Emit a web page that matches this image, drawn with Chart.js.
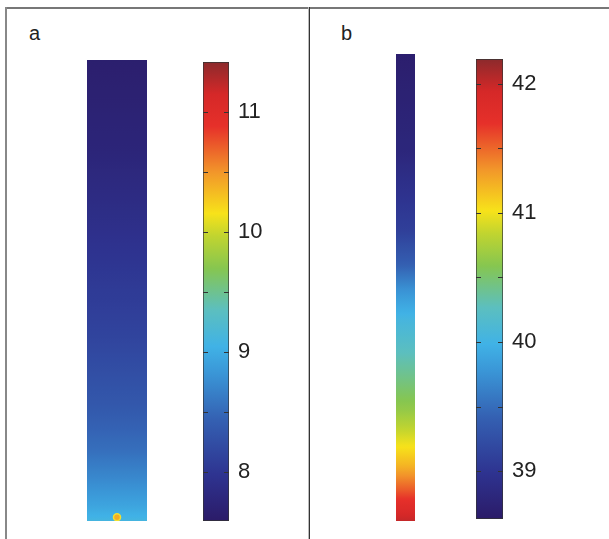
<!DOCTYPE html>
<html><head><meta charset="utf-8">
<script src="https://cdn.jsdelivr.net/npm/chart.js@4/dist/chart.umd.min.js"></script>
<style>
html,body{margin:0;padding:0;background:#fff}
body{width:609px;height:539px;position:relative;overflow:hidden;font-family:"Liberation Sans",Arial,sans-serif}
.abs{position:absolute}
.lbl{position:absolute;font-size:20px;color:#222}
</style></head><body>
<div class="abs" style="left:5px;top:7px;width:604px;height:2px;background:#777"></div>
<div class="abs" style="left:5px;top:7px;width:2px;height:532px;background:#888"></div>
<div class="abs" style="left:308px;top:7px;width:1px;height:532px;background:#bbb"></div>
<div class="abs" style="left:309px;top:7px;width:1px;height:532px;background:#333"></div>
<div class="lbl" id="la" style="left:29px;top:22px"></div>
<div class="lbl" id="lb" style="left:341px;top:22px"></div>
<div class="abs" style="left:87px;top:60px;width:60px;height:461px"><canvas id="barA"></canvas></div>
<div class="abs" style="left:203px;top:62px;width:82px;height:459px"><canvas id="cbA"></canvas></div>
<div class="abs" style="left:396px;top:54px;width:19px;height:467px"><canvas id="barB"></canvas></div>
<div class="abs" style="left:476px;top:59px;width:83px;height:460px"><canvas id="cbB"></canvas></div>
<script>
// ---- data ----
const panelLabels = ['a', 'b'];
// panel a: vertical profile (depth fraction from top -> value)
const depthA = [0, 0.2, 0.4, 0.6, 0.75, 0.85, 0.915, 0.97, 1.0];
const valueA = [7.65, 7.75, 7.95, 8.15, 8.35, 8.55, 8.75, 8.95, 9.1];
const hotspotDepthA = [0.992];
const hotspotValueA = [10.4];
const rangeA = [7.59, 11.42];
const ticksA = [8, 9, 10, 11];
const minorTicksA = [8.5, 9.5, 10.5];
// panel b
const depthB = [0, 0.206, 0.377, 0.45, 0.505, 0.57, 0.634, 0.7, 0.762, 0.827, 0.88, 0.934, 0.99, 1.0];
const valueB = [38.68, 38.8, 39.1, 39.4, 39.75, 40.05, 40.25, 40.45, 40.65, 40.95, 41.2, 41.55, 41.95, 42.0];
const rangeB = [38.63, 42.19];
const ticksB = [39, 40, 41, 42];
const minorTicksB = [39.5, 40.5, 41.5];

// ---- colormap ----
const cmapT = [0.00, 0.10, 0.22, 0.32, 0.38, 0.46, 0.55, 0.62, 0.67, 0.76, 0.86, 0.93, 1.00];
const cmapC = ['#2b1b68','#2e3390','#3460b2','#3a95d6','#40b2e6','#5cbfbf','#86c650','#c0d430','#f7e21a','#f2962a','#e6302a','#d52828','#8c2a2c'];
function hex(c){return [parseInt(c.substr(1,2),16),parseInt(c.substr(3,2),16),parseInt(c.substr(5,2),16)];}
function cmap(t){
  t = Math.max(0, Math.min(1, t));
  for (let i = 0; i < cmapT.length - 1; i++) {
    if (t <= cmapT[i+1]) {
      const f = (t - cmapT[i]) / (cmapT[i+1] - cmapT[i]);
      const a = hex(cmapC[i]), b = hex(cmapC[i+1]);
      return 'rgb(' + a.map((x, k) => Math.round(x + (b[k] - x) * f)).join(',') + ')';
    }
  }
  return cmapC[cmapC.length - 1];
}
const clamp = v => Math.max(0, Math.min(1, v));

document.getElementById('la').textContent = panelLabels[0];
document.getElementById('lb').textContent = panelLabels[1];

Chart.defaults.font.family = '"Liberation Sans", Arial, sans-serif';

function profileGradient(chart, depths, vals, range) {
  const a = chart.chartArea, ys = chart.scales.y;
  const g = chart.ctx.createLinearGradient(0, a.top, 0, a.bottom);
  const H = a.bottom - a.top;
  const N = 10;
  for (let i = 0; i < depths.length - 1; i++) {
    for (let k = 0; k < N; k++) {
      const f = k / N;
      const d = depths[i] + (depths[i+1] - depths[i]) * f;
      const v = vals[i] + (vals[i+1] - vals[i]) * f;
      g.addColorStop(clamp((ys.getPixelForValue(d) - a.top) / H), cmap((v - range[0]) / (range[1] - range[0])));
    }
  }
  const last = depths.length - 1;
  g.addColorStop(clamp((ys.getPixelForValue(depths[last]) - a.top) / H), cmap((vals[last] - range[0]) / (range[1] - range[0])));
  return g;
}

function profileChart(id, depths, vals, range, extra) {
  const datasets = [{
    type: 'bar',
    data: [1],
    backgroundColor: ctx => ctx.chart.chartArea ? profileGradient(ctx.chart, depths, vals, range) : '#2b1b68',
    borderWidth: 0,
    barPercentage: 1,
    categoryPercentage: 1,
    order: 2
  }];
  if (extra) datasets.push(extra);
  return new Chart(document.getElementById(id), {
    type: 'bar',
    data: { labels: [''], datasets },
    options: {
      responsive: true, maintainAspectRatio: false, animation: false, events: [],
      layout: { padding: 0, autoPadding: false },
      plugins: { legend: { display: false }, tooltip: { enabled: false } },
      scales: {
        x: { display: false },
        y: { display: false, min: 0, max: 1, reverse: true }
      }
    }
  });
}

const tickMarks = {
  id: 'tickMarks',
  afterDatasetsDraw(chart, args, opts) {
    const ctx = chart.ctx, a = chart.chartArea, s = chart.scales.y;
    ctx.save();
    ctx.strokeStyle = '#333';
    ctx.lineWidth = 1.2;
    [...opts.major, ...opts.minor].forEach(v => {
      const y = Math.round(s.getPixelForValue(v)) + 0.5;
      ctx.beginPath();
      ctx.moveTo(a.left, y); ctx.lineTo(a.left + 5, y);
      ctx.moveTo(a.right - 5, y); ctx.lineTo(a.right, y);
      ctx.stroke();
    });
    ctx.restore();
  }
};

function colorbarChart(id, range, major, minor) {
  return new Chart(document.getElementById(id), {
    type: 'bar',
    data: { labels: [''], datasets: [{
      data: [[range[0], range[1]]],
      backgroundColor: ctx => {
        const a = ctx.chart.chartArea;
        if (!a) return '#888';
        const g = ctx.chart.ctx.createLinearGradient(0, a.bottom, 0, a.top);
        cmapT.forEach((t, i) => g.addColorStop(t, cmapC[i]));
        return g;
      },
      borderColor: '#333', borderWidth: 1, borderSkipped: false,
      barPercentage: 1, categoryPercentage: 1
    }]},
    plugins: [tickMarks],
    options: {
      responsive: true, maintainAspectRatio: false, animation: false, events: [],
      layout: { padding: 0, autoPadding: false },
      plugins: { legend: { display: false }, tooltip: { enabled: false }, tickMarks: { major, minor } },
      scales: {
        x: { display: false },
        y: {
          position: 'right', min: range[0], max: range[1],
          grid: { display: false, drawTicks: false }, border: { display: false },
          ticks: { color: '#222', font: { size: 22 }, padding: 9, callback: v => String(v) },
          afterBuildTicks: s => { s.ticks = major.map(v => ({ value: v })); },
          afterFit: s => { s.width = 56; s.paddingTop = 0; s.paddingBottom = 0; }
        }
      }
    }
  });
}

profileChart('barA', depthA, valueA, rangeA, {
  type: 'line', data: hotspotDepthA, showLine: false,
  pointRadius: 3.5, pointBorderWidth: 1.5,
  pointBackgroundColor: cmap((hotspotValueA[0] - rangeA[0]) / (rangeA[1] - rangeA[0])),
  pointBorderColor: '#f2e030', order: 1
});
colorbarChart('cbA', rangeA, ticksA, minorTicksA);
profileChart('barB', depthB, valueB, rangeB);
colorbarChart('cbB', rangeB, ticksB, minorTicksB);
</script>
</body></html>
